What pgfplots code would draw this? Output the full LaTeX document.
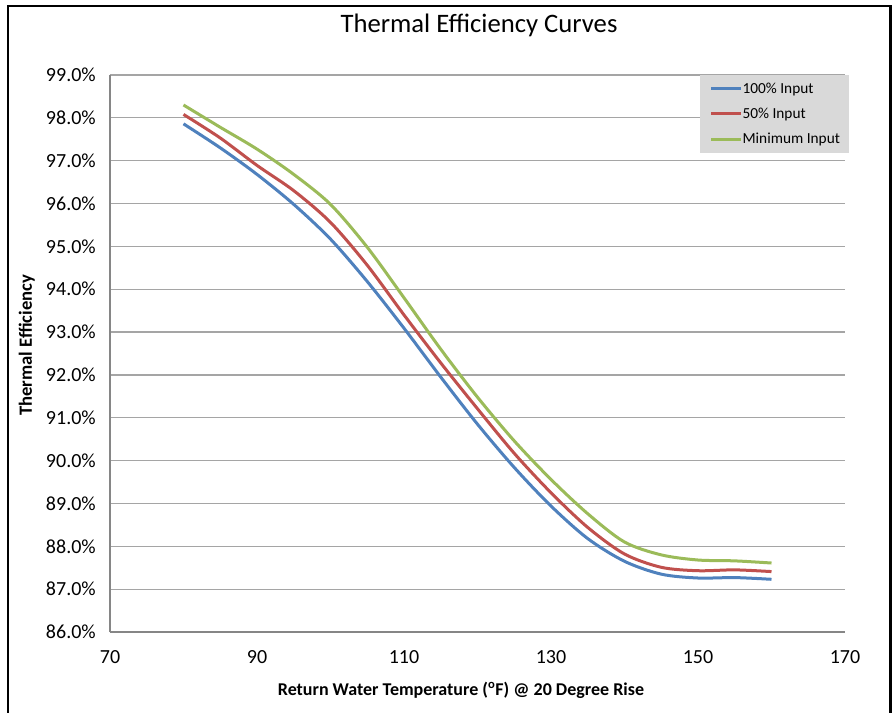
\documentclass[border=0pt]{standalone}
\usepackage{fontspec}
\setmainfont{Carlito}
\usepackage{pgfplots}
\pgfplotsset{compat=1.18}
\definecolor{cblue}{HTML}{4F81BD}
\definecolor{cred}{HTML}{C0504D}
\definecolor{cgreen}{HTML}{9BBB59}
\definecolor{gridgray}{RGB}{165,165,165}
\definecolor{axisgray}{RGB}{134,134,134}
\definecolor{leggray}{RGB}{217,217,217}
\begin{document}
\begin{tikzpicture}
\useasboundingbox (-82.5pt,474pt) rectangle (588.75pt,-60.75pt);
\draw[line width=1.6pt] (-76.5pt,-70pt) -- (-76.5pt,469.5pt) -- (585.4pt,469.5pt) -- (585.4pt,-70pt);
\begin{axis}[
  at={(0,0)}, anchor=south west,
  scale only axis, width=551.25pt, height=417.75pt,
  xmin=70, xmax=170, ymin=86, ymax=99,
  axis x line=bottom, axis y line=left,
  axis line style={draw=axisgray, line width=1.1pt, -},
  xtick={70,90,110,130,150,170},
  xticklabels={70,90,110,130,150,170},
  ytick={86,87,88,89,90,91,92,93,94,95,96,97,98,99},
  yticklabels={86.0\%,87.0\%,88.0\%,89.0\%,90.0\%,91.0\%,92.0\%,93.0\%,94.0\%,95.0\%,96.0\%,97.0\%,98.0\%,99.0\%},
  major tick length=0pt,
  /pgf/number format/assume math mode=true,
  ymajorgrids, grid style={draw=gridgray, line width=0.9pt},
  tick label style={font=\fontsize{15}{17}\selectfont},
  yticklabel style={inner sep=0pt, xshift=-10.5pt},
  xticklabel style={inner sep=0pt, yshift=-14pt},
  legend style={at={(rel axis cs:0.8027,1)}, anchor=north west, fill=leggray, draw=none,
    font=\fontsize{11.5}{13}\selectfont, inner xsep=7pt, inner ysep=5.5pt, row sep=9.5pt,
    nodes={inner sep=0pt, anchor=west},
    /tikz/every even column/.append style={column sep=2pt}},
  legend image code/.code={\draw[#1, line width=2.25pt] (0pt,0pt) -- (22.5pt,0pt);},
  legend cell align=left,
  clip=false,
]
\addplot[cblue, line width=2.25pt, smooth] coordinates {
(80,97.86) (85,97.30) (90,96.68) (95,95.98) (100,95.17) (105,94.18) (110,93.09) (115,91.95) (120,90.85) (125,89.84) (130,88.94) (135,88.18) (140,87.65) (145,87.35) (150,87.26) (155,87.27) (160,87.23)};
\addlegendentry{100\% Input}
\addplot[cred, line width=2.25pt, smooth] coordinates {
(80,98.08) (85,97.53) (90,96.89) (95,96.30) (100,95.56) (105,94.56) (110,93.40) (115,92.28) (120,91.21) (125,90.17) (130,89.25) (135,88.44) (140,87.82) (145,87.51) (150,87.43) (155,87.45) (160,87.41)};
\addlegendentry{50\% Input}
\addplot[cgreen, line width=2.25pt, smooth] coordinates {
(80,98.30) (85,97.78) (90,97.27) (95,96.68) (100,95.98) (105,94.98) (110,93.80) (115,92.60) (120,91.48) (125,90.46) (130,89.56) (135,88.76) (140,88.10) (145,87.80) (150,87.68) (155,87.66) (160,87.61)};
\addlegendentry{Minimum Input}
\end{axis}
\node[font=\fontsize{20}{24}\selectfont] at (276.75pt,455.25pt) {Thermal Efficiency Curves};
\node[font=\fontsize{14}{16}\selectfont\bfseries, rotate=90] at (-62.5pt,215pt) {Thermal Efficiency};
\node[font=\fontsize{13.5}{16}\selectfont\bfseries] at (263.25pt,-43.5pt) {Return Water Temperature (\textsuperscript{o}F) @ 20 Degree Rise};
\end{tikzpicture}
\end{document}
